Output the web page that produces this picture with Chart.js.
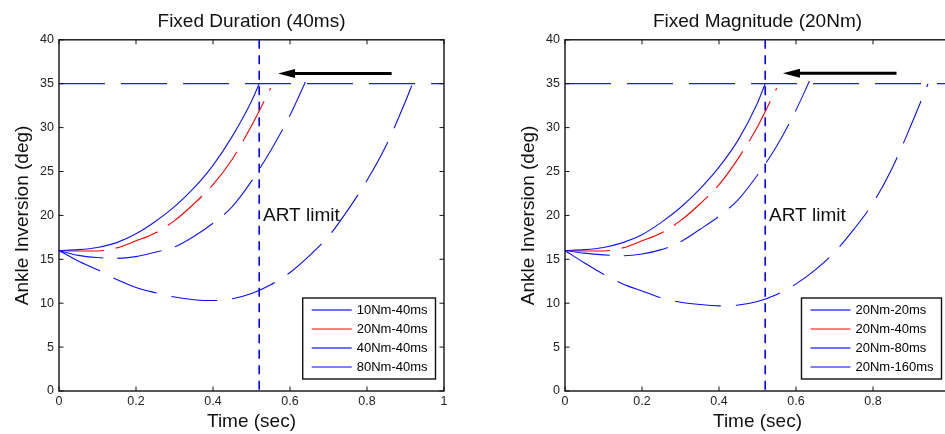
<!DOCTYPE html>
<html>
<head>
<meta charset="utf-8">
<script src="https://cdn.jsdelivr.net/npm/chart.js@4.4.1/dist/chart.umd.min.js"></script>
<style>
  html, body { margin: 0; padding: 0; background: #fff; overflow: hidden; }
  #wrap { position: relative; width: 945px; height: 434px; overflow: hidden; }
  #durationChart { position: absolute; left: 0; top: 0; }
  #magnitudeChart { position: absolute; left: 475px; top: 0; }
</style>
</head>
<body>
<div id="wrap">
  <canvas id="durationChart" width="470" height="434"></canvas>
  <canvas id="magnitudeChart" width="500" height="434"></canvas>
</div>
<script>
// axes shared by both panels
const xTicks = [0, 0.2, 0.4, 0.6, 0.8, 1];
const yTicks = [0, 5, 10, 15, 20, 25, 30, 35, 40];
const limitAngle = 35;      // deg, horizontal dashed line
const artLimitTime = 0.52;  // sec, vertical dashed line

// Fixed Duration (40ms)
const durLabels = ['10Nm-40ms', '20Nm-40ms', '40Nm-40ms', '80Nm-40ms'];
const dur10Time  = [0, 0.05, 0.1, 0.15, 0.2, 0.25, 0.3, 0.35, 0.4, 0.45, 0.5, 0.52];
const dur10Angle = [16.0, 16.1, 16.35, 16.9, 17.9, 19.3, 21.0, 23.1, 25.7, 29.0, 33.0, 35.0];
const dur20Time  = [0, 0.05, 0.1, 0.15, 0.2, 0.25, 0.3, 0.35, 0.4, 0.45, 0.5, 0.55];
const dur20Angle = [16.0, 15.95, 15.95, 16.3, 17.1, 18.0, 19.4, 21.3, 23.5, 26.4, 30.2, 34.5];
const dur40Time  = [0, 0.05, 0.1, 0.15, 0.2, 0.25, 0.3, 0.35, 0.4, 0.45, 0.5, 0.55, 0.6, 0.64];
const dur40Angle = [16.0, 15.45, 15.2, 15.1, 15.3, 15.8, 16.4, 17.6, 19.1, 21.0, 23.9, 27.4, 31.4, 35.2];
const dur80Time  = [0, 0.05, 0.1, 0.15, 0.2, 0.25, 0.3, 0.35, 0.4, 0.45, 0.5, 0.55, 0.6, 0.65, 0.7, 0.75, 0.8, 0.85, 0.9, 0.92];
const dur80Angle = [16.0, 14.8, 13.8, 12.7, 11.8, 11.2, 10.7, 10.4, 10.3, 10.5, 11.1, 12.1, 13.5, 15.4, 17.6, 20.6, 24.0, 28.0, 33.0, 35.2];
const durArrowFrom = [0.864, 36.15];
const durArrowTo   = [0.569, 36.15];

// Fixed Magnitude (20Nm)
const magLabels = ['20Nm-20ms', '20Nm-40ms', '20Nm-80ms', '20Nm-160ms'];
const mag20Time   = [0, 0.05, 0.1, 0.15, 0.2, 0.25, 0.3, 0.35, 0.4, 0.45, 0.5, 0.52];
const mag20Angle  = [16.0, 16.1, 16.35, 16.9, 17.8, 19.2, 20.9, 23.0, 25.5, 28.6, 32.8, 35.0];
const mag40Time   = [0, 0.05, 0.1, 0.15, 0.2, 0.25, 0.3, 0.35, 0.4, 0.45, 0.5, 0.55];
const mag40Angle  = [16.0, 15.95, 15.95, 16.3, 17.1, 18.0, 19.4, 21.3, 23.5, 26.5, 30.1, 34.5];
const mag80Time   = [0, 0.05, 0.1, 0.15, 0.2, 0.25, 0.3, 0.35, 0.4, 0.45, 0.5, 0.55, 0.6, 0.635];
const mag80Angle  = [16.0, 15.7, 15.5, 15.4, 15.6, 16.1, 17.0, 18.4, 19.9, 21.8, 24.6, 27.9, 32.0, 35.3];
const mag160Time  = [0, 0.05, 0.1, 0.15, 0.2, 0.25, 0.3, 0.35, 0.4, 0.45, 0.5, 0.55, 0.6, 0.65, 0.7, 0.75, 0.8, 0.85, 0.9, 0.943];
const mag160Angle = [16.0, 14.6, 13.3, 12.2, 11.4, 10.6, 10.1, 9.85, 9.7, 9.8, 10.2, 11.0, 12.2, 13.8, 15.8, 18.4, 21.4, 25.4, 30.4, 35.0];
const magArrowFrom = [0.861, 36.2];
const magArrowTo   = [0.566, 36.2];

const limitText = 'ART limit';
const limitTextAt = [0.53, 20];

// styles
const fontFamily = '"Liberation Sans", Arial, Helvetica, sans-serif';
const curveColors = ['#1414ff', '#ff0000', '#1414ff', '#0a0aff'];
const curveWidths = [1.1, 1.1, 1.1, 1.1];
const curveDashes = [[], [45, 12], [45, 14], [46, 15]];
const legendColors = ['#6e6eff', '#ff0000', '#6e6eff', '#0000ff'];
const legendWidths = [2.2, 1.2, 2.2, 1.2];

Chart.defaults.font.family = fontFamily;

function makeSeries(times, angles) {
    return times.map((t, i) => ({ x: t, y: angles[i] }));
}

// Matlab-like frame, inward ticks, annotation text, arrow and boxed legend
const matlabAxes = {
    id: 'matlabAxes',
    afterDraw(chart, args, opts) {
        const { ctx, chartArea: a, scales: { x, y } } = chart;
        ctx.save();

        // ART limit label
        ctx.fillStyle = '#111';
        ctx.font = '19px ' + fontFamily;
        ctx.textAlign = 'left';
        ctx.textBaseline = 'middle';
        ctx.fillText(limitText, x.getPixelForValue(limitTextAt[0]), y.getPixelForValue(limitTextAt[1]));

        // arrow
        const x0 = x.getPixelForValue(opts.arrowFrom[0]);
        const y0 = y.getPixelForValue(opts.arrowFrom[1]);
        const x1 = x.getPixelForValue(opts.arrowTo[0]);
        const y1 = y.getPixelForValue(opts.arrowTo[1]);
        const ang = Math.atan2(y1 - y0, x1 - x0);
        const headLen = 17, headHalf = 4.5;
        ctx.strokeStyle = '#000';
        ctx.fillStyle = '#000';
        ctx.lineWidth = 3;
        ctx.beginPath();
        ctx.moveTo(x0, y0);
        ctx.lineTo(x1 - Math.cos(ang) * (headLen - 2), y1 - Math.sin(ang) * (headLen - 2));
        ctx.stroke();
        ctx.beginPath();
        ctx.moveTo(x1, y1);
        ctx.lineTo(x1 - Math.cos(ang) * headLen - Math.sin(ang) * headHalf, y1 - Math.sin(ang) * headLen + Math.cos(ang) * headHalf);
        ctx.lineTo(x1 - Math.cos(ang) * headLen + Math.sin(ang) * headHalf, y1 - Math.sin(ang) * headLen - Math.cos(ang) * headHalf);
        ctx.closePath();
        ctx.fill();

        // frame
        ctx.strokeStyle = '#111';
        ctx.lineWidth = 1.4;
        ctx.strokeRect(a.left, a.top, a.right - a.left, a.bottom - a.top);

        // inward ticks on all four sides
        const tl = 4.5;
        ctx.lineWidth = 1;
        ctx.beginPath();
        xTicks.forEach(v => {
            const px = x.getPixelForValue(v);
            ctx.moveTo(px, a.bottom); ctx.lineTo(px, a.bottom - tl);
            ctx.moveTo(px, a.top); ctx.lineTo(px, a.top + tl);
        });
        yTicks.forEach(v => {
            const py = y.getPixelForValue(v);
            ctx.moveTo(a.left, py); ctx.lineTo(a.left + tl, py);
            ctx.moveTo(a.right, py); ctx.lineTo(a.right - tl, py);
        });
        ctx.stroke();

        // legend box in the lower right corner
        ctx.font = '13px ' + fontFamily;
        const labels = opts.labels;
        const textW = Math.max(...labels.map(l => ctx.measureText(l).width));
        const boxW = 54 + textW + 8;
        const rowH = 19;
        const boxH = 12 + rowH * (labels.length - 1) + 12;
        const bx = a.right - 8.5 - boxW;
        const by = a.bottom - 12 - boxH;
        ctx.fillStyle = '#fff';
        ctx.fillRect(bx, by, boxW, boxH);
        ctx.strokeStyle = '#111';
        ctx.lineWidth = 1.4;
        ctx.strokeRect(bx, by, boxW, boxH);
        labels.forEach((l, i) => {
            const ry = by + 12 + i * rowH;
            ctx.strokeStyle = legendColors[i];
            ctx.lineWidth = legendWidths[i];
            ctx.beginPath();
            ctx.moveTo(bx + 9, ry);
            ctx.lineTo(bx + 49, ry);
            ctx.stroke();
            ctx.fillStyle = '#000';
            ctx.textAlign = 'left';
            ctx.textBaseline = 'middle';
            ctx.fillText(l, bx + 54, ry + 0.5);
        });

        ctx.restore();
    }
};

function buildChart(canvasId, cfg) {
    const datasets = cfg.series.map((s, i) => ({
        label: cfg.labels[i],
        data: makeSeries(s[0], s[1]),
        borderColor: curveColors[i],
        borderWidth: curveWidths[i],
        borderDash: curveDashes[i],
        pointRadius: 0,
        cubicInterpolationMode: 'monotone',
        fill: false
    }));

    // reference lines
    datasets.push({
        label: 'limit',
        data: [{ x: 0, y: limitAngle }, { x: 1, y: limitAngle }],
        borderColor: '#1a1aff',
        borderWidth: 1.2,
        borderDash: [46, 16],
        pointRadius: 0,
        tension: 0
    });
    datasets.push({
        label: 'art',
        data: [{ x: artLimitTime, y: 40 }, { x: artLimitTime, y: 0 }],
        borderColor: '#0000ff',
        borderWidth: 1.6,
        borderDash: [9, 6.5],
        pointRadius: 0,
        tension: 0
    });

    return new Chart(document.getElementById(canvasId), {
        type: 'line',
        data: { datasets },
        options: {
            responsive: false,
            animation: false,
            devicePixelRatio: 1,
            layout: { padding: { left: cfg.padLeft, right: cfg.padRight, top: 0, bottom: 0 } },
            plugins: {
                legend: { display: false },
                tooltip: { enabled: false },
                title: {
                    display: true,
                    text: cfg.title,
                    fullSize: false,
                    color: '#111',
                    font: { size: 19, weight: 'normal' },
                    padding: { top: 10, bottom: 7 }
                },
                matlabAxes: {
                    labels: cfg.labels,
                    arrowFrom: cfg.arrowFrom,
                    arrowTo: cfg.arrowTo
                }
            },
            scales: {
                x: {
                    type: 'linear',
                    min: 0,
                    max: 1,
                    afterBuildTicks: s => { s.ticks = xTicks.map(v => ({ value: v })); },
                    afterFit: s => { s.height = 43; },
                    grid: { display: false, drawTicks: false },
                    border: { display: false },
                    ticks: {
                        padding: 3,
                        color: '#222',
                        font: { size: 12.5 },
                        maxRotation: 0,
                        autoSkip: false,
                        callback: v => String(v)
                    },
                    title: {
                        display: true,
                        text: 'Time (sec)',
                        color: '#111',
                        font: { size: 19 },
                        padding: { top: 0, bottom: 1 }
                    }
                },
                y: {
                    type: 'linear',
                    min: 0,
                    max: 40,
                    afterBuildTicks: s => { s.ticks = yTicks.map(v => ({ value: v })); },
                    afterFit: s => { s.width = 59; },
                    grid: { display: false, drawTicks: false },
                    border: { display: false },
                    ticks: {
                        padding: 5,
                        color: '#222',
                        font: { size: 12.5 },
                        autoSkip: false,
                        callback: v => String(v)
                    },
                    title: {
                        display: true,
                        text: 'Ankle Inversion (deg)',
                        color: '#111',
                        font: { size: 19 },
                        padding: { top: 11, bottom: 0 }
                    }
                }
            }
        },
        plugins: [matlabAxes]
    });
}

buildChart('durationChart', {
    title: 'Fixed Duration (40ms)',
    labels: durLabels,
    series: [[dur10Time, dur10Angle], [dur20Time, dur20Angle], [dur40Time, dur40Angle], [dur80Time, dur80Angle]],
    arrowFrom: durArrowFrom,
    arrowTo: durArrowTo,
    padLeft: 0,
    padRight: 26
});

buildChart('magnitudeChart', {
    title: 'Fixed Magnitude (20Nm)',
    labels: magLabels,
    series: [[mag20Time, mag20Angle], [mag40Time, mag40Angle], [mag80Time, mag80Angle], [mag160Time, mag160Angle]],
    arrowFrom: magArrowFrom,
    arrowTo: magArrowTo,
    padLeft: 31,
    padRight: 25
});
</script>
</body>
</html>
